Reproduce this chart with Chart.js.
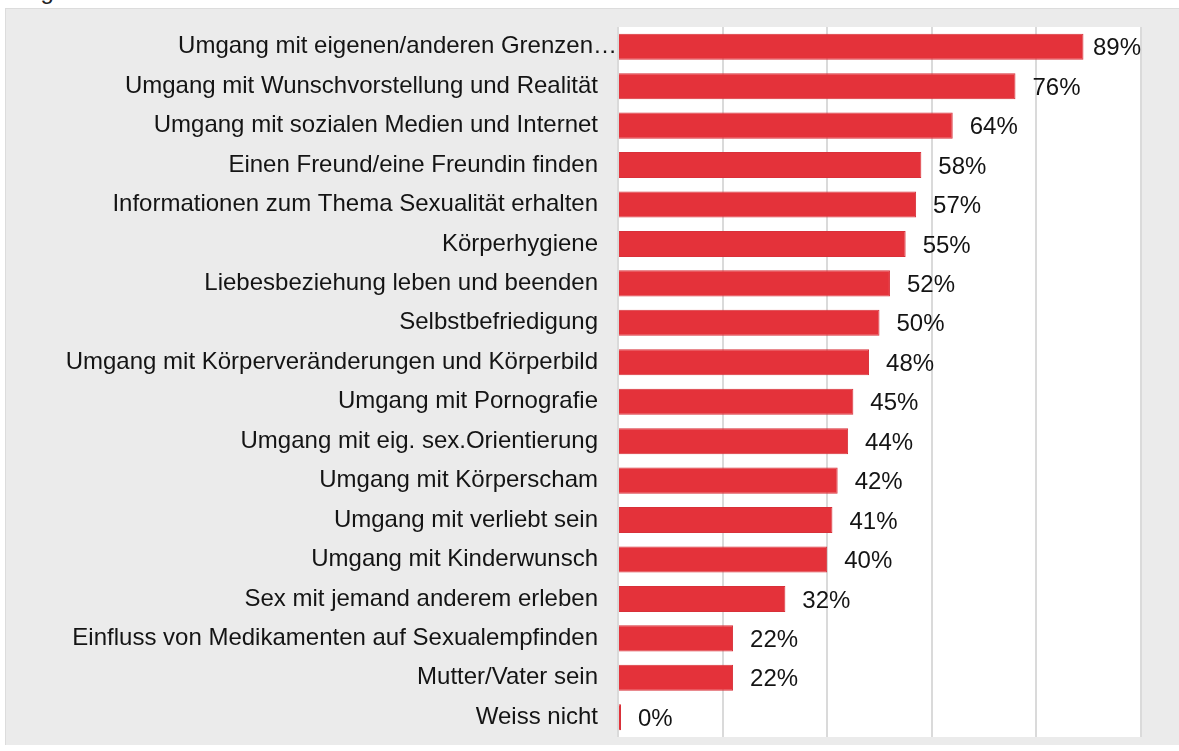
<!DOCTYPE html>
<html>
<head>
<meta charset="utf-8">
<script src="https://cdn.jsdelivr.net/npm/chart.js@4"></script>
<style>
    body { margin: 0; background: #ffffff; width: 1179px; height: 751px; overflow: hidden; position: relative; font-family: "Liberation Sans", Arial, sans-serif; }
    #top-text { position: absolute; left: -73px; top: -21px; font-size: 24px; line-height: 24px; color: #222; }
    #panel { position: absolute; left: 5px; top: 8px; width: 1174px; height: 737px; background: #ebebeb; border-top: 1px solid #dcdcdc; border-left: 1px solid #dcdcdc; box-sizing: border-box; }
</style>
</head>
<body>
<div id="top-text">Auswertung</div>
<div id="panel"><canvas id="bar-chart" width="1174" height="737"></canvas></div>
<script>
// Data
const categories = [
    "Umgang mit eigenen/anderen Grenzen…",
    "Umgang mit Wunschvorstellung und Realität",
    "Umgang mit sozialen Medien und Internet",
    "Einen Freund/eine Freundin finden",
    "Informationen zum Thema Sexualität erhalten",
    "Körperhygiene",
    "Liebesbeziehung leben und beenden",
    "Selbstbefriedigung",
    "Umgang mit Körperveränderungen und Körperbild",
    "Umgang mit Pornografie",
    "Umgang mit eig. sex.Orientierung",
    "Umgang mit Körperscham",
    "Umgang mit verliebt sein",
    "Umgang mit Kinderwunsch",
    "Sex mit jemand anderem erleben",
    "Einfluss von Medikamenten auf Sexualempfinden",
    "Mutter/Vater sein",
    "Weiss nicht"
];
const percentValues = [89, 76, 64, 58, 57, 55, 52, 50, 48, 45, 44, 42, 41, 40, 32, 22, 22, 0];
const gridTicks = [0, 20, 40, 60, 80, 100];

const labelFont = "24px 'Liberation Sans', Arial, sans-serif";

// Plugins
const plotBackground = {
    id: "plotBackground",
    beforeDraw(chart) {
        const { ctx, chartArea } = chart;
        ctx.save();
        ctx.fillStyle = "#ffffff";
        ctx.fillRect(chartArea.left, chartArea.top, chartArea.right - chartArea.left, chartArea.bottom - chartArea.top);
        ctx.restore();
    }
};

// value labels + the truncated first category label (it runs up to the plot edge)
const valueLabels = {
    id: "valueLabels",
    afterDatasetsDraw(chart) {
        const { ctx, chartArea } = chart;
        const meta = chart.getDatasetMeta(0);
        ctx.save();
        ctx.font = labelFont;
        ctx.fillStyle = "#141414";
        ctx.textBaseline = "middle";
        meta.data.forEach((bar, i) => {
            const text = percentValues[i] + "%";
            const w = ctx.measureText(text).width;
            let x = bar.x + 17;
            if (x + w > chartArea.right) x = chartArea.right - w;
            ctx.fillText(text, x, bar.y + 2);
        });
        ctx.textAlign = "right";
        ctx.fillText(categories[0], chartArea.left - 1, meta.data[0].y);
        ctx.restore();
    }
};

new Chart(document.getElementById("bar-chart"), {
    type: "bar",
    data: {
        labels: categories,
        datasets: [{
            data: percentValues,
            backgroundColor: "#e4323a",
            borderColor: "#d83039",
            borderWidth: 1,
            barPercentage: 0.66,
            categoryPercentage: 1,
            minBarLength: 3
        }]
    },
    options: {
        indexAxis: "y",
        responsive: false,
        animation: false,
        layout: { padding: { top: 18, right: 39, bottom: 9, left: 0 } },
        plugins: {
            legend: { display: false },
            tooltip: { enabled: false }
        },
        scales: {
            x: {
                min: 0,
                max: 100,
                afterBuildTicks: (scale) => { scale.ticks = gridTicks.map(v => ({ value: v })); },
                ticks: { display: false },
                grid: { color: "#dadada", lineWidth: 2, drawTicks: false },
                border: { display: false },
                afterFit: (scale) => { scale.height = 0; scale.paddingLeft = 0; scale.paddingRight = 0; }
            },
            y: {
                grid: { display: false, drawTicks: false },
                border: { display: false },
                ticks: {
                    color: "#141414",
                    padding: 20,
                    font: { family: "'Liberation Sans', Arial, sans-serif", size: 24 },
                    callback: (value, index) => index === 0 ? "" : categories[index]
                },
                afterFit: (scale) => { scale.width = 612; scale.paddingTop = 0; scale.paddingBottom = 0; }
            }
        }
    },
    plugins: [plotBackground, valueLabels]
});
</script>
</body>
</html>
